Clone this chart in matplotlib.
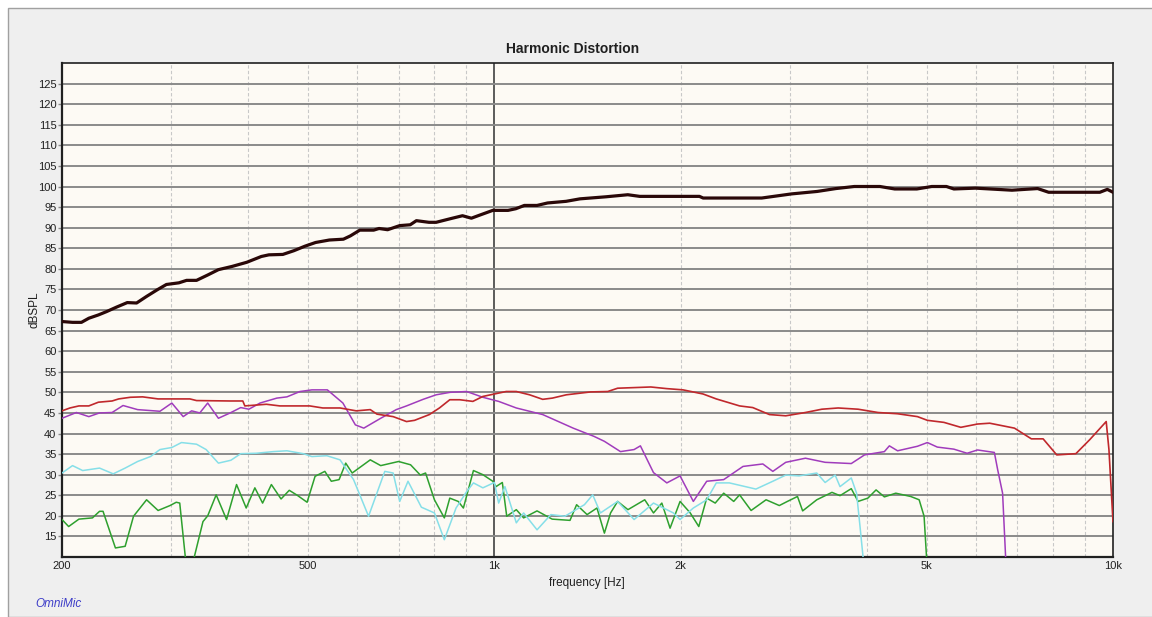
import matplotlib
matplotlib.use("Agg")
import matplotlib.pyplot as plt
from matplotlib.patches import Rectangle
from matplotlib.ticker import FixedLocator, NullFormatter, NullLocator

plt.rcParams['font.family'] = ['Liberation Sans Narrow', 'Liberation Sans', 'DejaVu Sans']

# ---------------- data ----------------
title = "Harmonic Distortion"
x_ticks = [200, 500, 1000, 2000, 5000, 10000]
x_tick_labels = ["200", "500", "1k", "2k", "5k", "10k"]
y_ticks = list(range(15, 130, 5))

fund_f = [200, 208, 215, 221, 229, 236, 245, 255, 264, 274, 285, 295, 309, 318, 330, 344, 358, 377, 398, 420,
          432, 455, 474, 494, 514, 541, 570, 585, 606, 638, 651, 672, 703, 731, 748, 784, 805, 850, 888, 918,
          945, 994, 1052, 1083, 1118, 1172, 1219, 1306, 1375, 1515, 1643, 1718, 2145, 2175, 2705, 3022, 3325,
          3565, 3817, 4200, 4438, 4818, 5093, 5379, 5531, 5994, 6329, 6865, 7554, 7870, 8540, 9522, 9790, 10000]
fund_v = [67.2, 67.0, 67.0, 68.0, 68.8, 69.6, 70.7, 71.8, 71.7, 73.3, 74.9, 76.2, 76.6, 77.2, 77.2, 78.5, 79.8,
          80.6, 81.6, 83.0, 83.4, 83.5, 84.4, 85.5, 86.4, 87.0, 87.2, 88.0, 89.4, 89.4, 89.8, 89.5, 90.5, 90.7,
          91.7, 91.3, 91.3, 92.2, 92.9, 92.3, 93.0, 94.2, 94.2, 94.6, 95.4, 95.4, 96.0, 96.4, 97.0, 97.5, 98.0,
          97.6, 97.6, 97.2, 97.2, 98.2, 98.8, 99.5, 100.0, 100.0, 99.4, 99.4, 100.0, 100.0, 99.4, 99.6, 99.4,
          99.1, 99.5, 98.6, 98.6, 98.6, 99.3, 98.6]

h2_f = [200, 206, 213, 221, 229, 241, 247, 258, 270, 286, 322, 330, 374, 392, 395, 428, 450, 503, 528, 563,
        598, 630, 646, 686, 721, 743, 785, 815, 847, 879, 923, 958, 1000, 1045, 1085, 1140, 1197, 1241, 1307,
        1431, 1525, 1582, 1790, 1900, 2018, 2174, 2284, 2491, 2616, 2784, 2958, 3183, 3383, 3595, 3872, 4170,
        4484, 4830, 5011, 5330, 5675, 6040, 6320, 6930, 7380, 7710, 8110, 8710, 9170, 9750, 9850, 10000]
h2_v = [45.5, 46.2, 46.7, 46.7, 47.6, 47.9, 48.4, 48.8, 48.9, 48.4, 48.4, 48.0, 47.9, 47.9, 46.7, 47.1, 46.7,
        46.7, 46.2, 46.2, 45.5, 45.8, 44.7, 44.1, 42.9, 43.2, 44.6, 46.2, 48.2, 48.2, 47.8, 49.0, 49.6, 50.2,
        50.2, 49.4, 48.3, 48.6, 49.4, 50.1, 50.2, 51.0, 51.3, 50.9, 50.6, 49.6, 48.4, 46.7, 46.3, 44.6, 44.3,
        45.1, 45.9, 46.2, 45.9, 45.1, 44.8, 44.1, 43.2, 42.7, 41.5, 42.3, 42.5, 41.3, 38.7, 38.7, 34.8, 35.1,
        38.5, 42.9, 36.1, 18.6]

h3_f = [200, 211, 221, 230, 241, 251, 265, 288, 301, 314, 324, 334, 344, 358, 374, 389, 401, 418, 445, 462,
        485, 507, 537, 569, 596, 615, 655, 694, 721, 767, 805, 848, 902, 958, 1016, 1085, 1197, 1341, 1449,
        1506, 1599, 1682, 1722, 1808, 1900, 1996, 2097, 2204, 2348, 2523, 2716, 2819, 2958, 3183, 3425, 3775,
        3966, 4270, 4350, 4485, 4830, 5011, 5200, 5530, 5810, 6040, 6430, 6510, 6630, 6710]
h3_v = [43.7, 45.1, 44.1, 45.0, 45.1, 46.8, 45.8, 45.4, 47.4, 44.1, 45.5, 45.0, 47.4, 43.7, 45.0, 46.3, 45.9,
        47.4, 48.6, 48.9, 50.2, 50.6, 50.6, 47.4, 42.1, 41.3, 43.7, 45.8, 46.7, 48.3, 49.4, 50.0, 50.2, 48.8,
        47.8, 46.2, 44.6, 41.3, 39.3, 38.1, 35.6, 36.1, 37.0, 30.5, 28.0, 29.7, 23.5, 28.4, 28.8, 32.0, 32.6,
        30.8, 33.0, 34.0, 33.0, 32.7, 34.8, 35.6, 37.0, 35.8, 36.9, 37.8, 36.7, 36.2, 35.2, 36.0, 35.4, 31.2,
        25.5, 9.0]

h4_f = [200, 208, 216, 230, 242, 253, 265, 278, 288, 301, 312, 330, 342, 358, 375, 389, 412, 439, 462, 491,
        507, 536, 563, 592, 626, 665, 686, 703, 725, 762, 800, 830, 867, 902, 925, 958, 1000, 1016, 1040, 1085,
        1115, 1172, 1234, 1300, 1398, 1442, 1484, 1582, 1682, 1808, 1947, 1996, 2097, 2204, 2284, 2398, 2647,
        2819, 2958, 3108, 3320, 3425, 3555, 3620, 3775, 3850, 3900, 3950]
h4_v = [30.4, 32.2, 31.0, 31.6, 30.2, 31.6, 33.2, 34.4, 36.1, 36.6, 37.8, 37.4, 36.1, 32.8, 33.5, 35.1, 35.2,
        35.6, 35.8, 35.1, 34.4, 34.6, 33.6, 28.8, 19.9, 30.8, 30.4, 23.5, 28.4, 22.1, 20.7, 14.2, 21.9, 25.9,
        28.0, 26.8, 28.1, 23.1, 27.1, 18.3, 20.7, 16.6, 20.3, 19.9, 22.7, 25.1, 20.7, 23.5, 19.1, 23.1, 20.7,
        19.1, 21.9, 23.9, 28.0, 28.0, 26.5, 28.4, 29.9, 29.7, 30.4, 28.1, 29.9, 27.1, 29.2, 25.5, 17.4, 9.0]

h5_f = [200, 205, 213, 224, 230, 233, 244, 253, 261, 274, 286, 299, 306, 310, 317, 326, 338, 344, 355, 369,
        383, 397, 410, 422, 436, 452, 466, 480, 498, 513, 532, 545, 561, 575, 589, 630, 655, 700, 732, 759,
        774, 800, 830, 847, 874, 891, 925, 958, 994, 1006, 1030, 1047, 1085, 1115, 1172, 1240, 1325, 1358,
        1412, 1465, 1506, 1541, 1582, 1644, 1750, 1808, 1865, 1923, 1996, 2073, 2140, 2204, 2275, 2348, 2437,
        2491, 2600, 2749, 2888, 2976, 3090, 3150, 3320, 3513, 3620, 3775, 3872, 4015, 4140, 4270, 4455, 4710,
        4860, 4950, 5000]
h5_v = [19.1, 17.4, 19.2, 19.5, 21.1, 21.1, 12.2, 12.6, 19.9, 23.9, 21.3, 22.5, 23.3, 23.1, 9.0, 9.0, 18.6,
        20.0, 25.1, 19.1, 27.6, 21.9, 26.8, 23.1, 27.6, 24.1, 26.2, 25.0, 23.3, 29.6, 30.8, 28.4, 28.8, 32.8,
        30.4, 33.6, 32.2, 33.2, 32.4, 29.9, 30.4, 23.9, 19.5, 24.3, 23.5, 21.9, 31.0, 30.0, 28.4, 27.1, 28.1,
        19.9, 21.5, 19.5, 21.2, 19.2, 18.9, 22.7, 20.3, 21.9, 15.8, 20.7, 23.5, 21.5, 23.9, 20.7, 23.1, 17.0,
        23.5, 20.7, 17.4, 24.3, 23.1, 25.5, 23.5, 25.1, 21.3, 23.9, 22.5, 23.5, 24.7, 21.2, 23.9, 25.7, 24.9,
        26.6, 23.5, 24.3, 26.3, 24.6, 25.5, 24.7, 23.9, 19.9, 9.0]

# ---------------- figure ----------------
W, H = 1152, 617
fig = plt.figure(figsize=(W / 100, H / 100), dpi=100, facecolor="white")
fig.patches.append(Rectangle((8 / W, 0), 1, 1 - 8 / H, transform=fig.transFigure,
                             facecolor="#efefef", edgecolor="#a0a0a0", linewidth=1.0, zorder=-10))

L, R, T, B = 62, 1113, 63, 557
ax = fig.add_axes([L / W, 1 - B / H, (R - L) / W, (B - T) / H])
ax.set_facecolor("#fdfaf4")
ax.set_xscale("log")
ax.set_xlim(200, 10000)
ax.set_ylim(10, 130)

# grid
minor_x = [300, 400, 500, 600, 700, 800, 900, 2000, 3000, 4000, 5000, 6000, 7000, 8000, 9000]
for xv in minor_x:
    ax.axvline(xv, color="#c8c8c8", linestyle=(0, (3, 2)), linewidth=0.8, zorder=1)
ax.axvline(1000, color="#404040", linewidth=1.2, zorder=1)
for yv in y_ticks:
    ax.axhline(yv, color="#8a8a8a", linewidth=1.4, zorder=1)

ax.xaxis.set_major_locator(FixedLocator(x_ticks))
ax.set_xticklabels(x_tick_labels)
ax.xaxis.set_minor_locator(NullLocator())
ax.xaxis.set_minor_formatter(NullFormatter())
ax.set_yticks(y_ticks)
ax.set_yticklabels([str(v) for v in y_ticks])
ax.tick_params(axis="x", length=0, pad=3, labelsize=8, colors="#202020")
ax.tick_params(axis="y", length=3, width=1.0, color="#8a8a8a", pad=1, labelsize=8, labelcolor="#202020")

for s in ax.spines.values():
    s.set_color("#202020")
    s.set_linewidth(1.2)
ax.spines["left"].set_linewidth(1.6)
ax.spines["bottom"].set_linewidth(1.6)

# curves
ax.plot(h5_f, h5_v, color="#2ea02e", linewidth=1.1, zorder=3)
ax.plot(h4_f, h4_v, color="#86dfe8", linewidth=1.1, zorder=3)
ax.plot(h3_f, h3_v, color="#a03cbc", linewidth=1.1, zorder=3)
ax.plot(h2_f, h2_v, color="#c0282c", linewidth=1.2, zorder=3)
ax.plot(fund_f, fund_v, color="#2a0808", linewidth=2.3, zorder=4)

# texts
fig.text(573 / W, 1 - 49 / H, title, ha="center", va="center", fontsize=10, fontweight="bold", color="#202020")
fig.text(587 / W, 1 - 583 / H, "frequency [Hz]", ha="center", va="center", fontsize=8.5, color="#202020")
fig.text(35 / W, 1 - 310 / H, "dBSPL", ha="center", va="center", rotation=90, fontsize=8.5, color="#202020")
fig.text(35 / W, 1 - 604 / H, "OmniMic", ha="left", va="center", fontsize=8.5, style="italic", color="#3c3cc8")

fig.savefig("out.png", dpi=100, facecolor=fig.get_facecolor())
